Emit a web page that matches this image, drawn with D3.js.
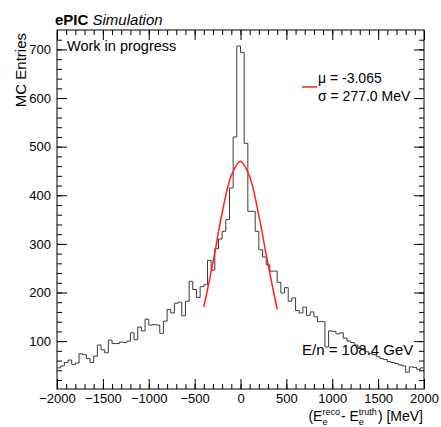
<!DOCTYPE html>
<html>
<head>
<meta charset="utf-8">
<script src="https://cdn.jsdelivr.net/npm/d3@7"></script>
<style>
  body { margin: 0; background: #fff; }
  text { font-family: "Liberation Sans", Arial, Helvetica, sans-serif; fill: #000; }
</style>
</head>
<body>
<div id="chart-area"></div>
<script>
// histogram: 100 bins of 40 MeV from -2000 to 2000
const binStart = -2000;
const binWidth = 40;
const counts = [
   45,  49,  56,  61,  52,  55,  74,  72,  64,  56,
   69,  92,  82,  76, 102,  95,  95,  98,  97, 100,
  117, 103, 129, 121, 145, 133, 134, 133, 116, 141,
  165, 158, 178, 180, 152, 182, 223, 206, 190, 212,
  216, 266, 246, 290, 310, 326, 350, 415, 520, 707,
  694, 507, 367, 367, 326, 288, 273, 257, 244, 244,
  221, 199, 210, 182, 189, 163, 158, 170, 153, 160,
  150, 140, 140,  88, 121, 120, 115, 117, 106, 100,
   97,  92,  85,  84,  78,  74,  72,  68,  64,  62,
   58,  56,  54,  51,  49,  36,  47,  46,  42,  45
];

// gaussian fit curve
const fitE = [-400, -300, -200, -100, 0, 100, 200, 300, 400];
const fitN = [170, 262, 364, 441, 470, 438, 358, 258, 165];

const xTicks = [-2000, -1500, -1000, -500, 0, 500, 1000, 1500, 2000];
const yTicks = [100, 200, 300, 400, 500, 600, 700];
const legendLines = ["\u03bc = -3.065", "\u03c3 = 277.0 MeV"];

const margin = { left: 57, right: 17, top: 30, bottom: 38 };
const width = 441 - margin.left - margin.right;
const height = 427 - margin.top - margin.bottom;

const svg = d3.select("#chart-area")
    .append("svg")
    .attr("width", 441)
    .attr("height", 427);

svg.append("rect").attr("width", 441).attr("height", 427).attr("fill", "#fff");

const g = svg.append("g")
    .attr("transform", `translate(${margin.left}, ${margin.top})`);

const x = d3.scaleLinear().domain([-2000, 2000]).range([0, width]);
const y = d3.scaleLinear().domain([1.5, 740]).range([height, 0]);

const font = "Liberation Sans, Arial, Helvetica, sans-serif";
const fmt = d3.format("d");

// ROOT style ticks: pointing inside, on all four sides
function drawAxis(axis, tx, ty, showLabels) {
    const a = g.append("g")
        .attr("transform", `translate(${tx}, ${ty})`)
        .call(axis);
    a.select(".domain").remove();
    a.selectAll("line").attr("stroke", "#000");
    a.selectAll("text").attr("font-size", 13).attr("font-family", font).attr("fill", "#000");
    if (!showLabels) a.selectAll("text").remove();
    return a;
}

const xMinor = d3.range(-2000, 2001, 100);
const yMinor = d3.range(20, 740, 20);

drawAxis(d3.axisBottom(x).tickValues(xMinor).tickSize(-5).tickFormat(""), 0, height, false);
drawAxis(d3.axisBottom(x).tickValues(xTicks).tickSize(-10).tickPadding(5).tickFormat(fmt), 0, height, true);
drawAxis(d3.axisTop(x).tickValues(xMinor).tickSize(-5).tickFormat(""), 0, 0, false);
drawAxis(d3.axisTop(x).tickValues(xTicks).tickSize(-10).tickFormat(""), 0, 0, false);

drawAxis(d3.axisLeft(y).tickValues(yMinor).tickSize(-5).tickFormat(""), 0, 0, false);
drawAxis(d3.axisLeft(y).tickValues(yTicks).tickSize(-10).tickPadding(6).tickFormat(fmt), 0, 0, true);
drawAxis(d3.axisRight(y).tickValues(yMinor).tickSize(-5).tickFormat(""), width, 0, false);
drawAxis(d3.axisRight(y).tickValues(yTicks).tickSize(-10).tickFormat(""), width, 0, false);

// frame
g.append("rect")
    .attr("width", width)
    .attr("height", height)
    .attr("fill", "none")
    .attr("stroke", "#000")
    .attr("stroke-width", 1);

// histogram outline
const steps = counts.map((c, i) => [binStart + i * binWidth, c]);
steps.push([binStart + counts.length * binWidth, counts[counts.length - 1]]);

g.append("path")
    .datum(steps)
    .attr("fill", "none")
    .attr("stroke", "#3a3a3a")
    .attr("stroke-width", 1)
    .attr("d", d3.line()
        .x(d => x(d[0]))
        .y(d => y(d[1]))
        .curve(d3.curveStepAfter));

// fit
g.append("path")
    .datum(fitE.map((e, i) => [e, fitN[i]]))
    .attr("fill", "none")
    .attr("stroke", "#ff2020")
    .attr("stroke-width", 1.5)
    .attr("d", d3.line()
        .x(d => x(d[0]))
        .y(d => y(d[1]))
        .curve(d3.curveCatmullRom));

// title
const title = svg.append("text")
    .attr("x", 55)
    .attr("y", 25)
    .attr("font-size", 15);
title.append("tspan").attr("font-weight", "bold").text("ePIC");
title.append("tspan").attr("font-style", "italic").text(" Simulation");

svg.append("text")
    .attr("x", 67)
    .attr("y", 51)
    .attr("font-size", 14.5)
    .text("Work in progress");

// legend
svg.append("line")
    .attr("x1", 302).attr("x2", 317)
    .attr("y1", 87).attr("y2", 87)
    .attr("stroke", "#ff2020")
    .attr("stroke-width", 1.5);

svg.selectAll(".legend")
    .data(legendLines)
    .enter()
    .append("text")
    .attr("class", "legend")
    .attr("x", 318)
    .attr("y", (d, i) => 83 + i * 18)
    .attr("font-size", 14)
    .text(d => d);

svg.append("text")
    .attr("x", 302)
    .attr("y", 355)
    .attr("font-size", 15)
    .text("E/n = 108.4 GeV");

// y axis title
svg.append("text")
    .attr("transform", "translate(26, 33) rotate(-90)")
    .attr("text-anchor", "end")
    .attr("font-size", 15)
    .text("MC Entries");

// x axis title with stacked sub/superscripts
const xt = svg.append("g");
let cx = 0;
function add(str, size, dy) {
    return xt.append("text")
        .attr("x", cx)
        .attr("y", dy)
        .attr("font-size", size)
        .text(str)
        .node().getComputedTextLength();
}
cx += add("(E", 14, 0);
cx += Math.max(add("e", 9, 4.6), add("reco", 9, -5.5)) + 1;
cx += add(" - E", 14, 0);
cx += Math.max(add("e", 9, 4.6), add("truth", 9, -5.5)) + 1;
cx += add(") [MeV]", 14, 0);
xt.attr("transform", `translate(${423 - cx}, 420.5)`);
</script>
</body>
</html>
